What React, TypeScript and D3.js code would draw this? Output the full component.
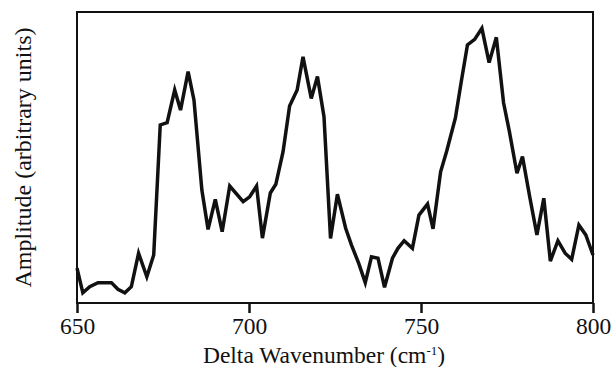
import { useEffect, useRef } from "react"
import * as d3 from "d3"

// wavenumber (cm-1) and amplitude (arbitrary units, 0-100)
const wavenumbers = [
  650, 651.7, 653.7, 656.1, 658, 660, 661.9, 663.9, 665.8, 667.9, 670.3, 672.3, 674.2, 676.2, 678.4,
  680.1, 682.3, 684, 686.3, 688.1, 690.2, 692.2, 694.4, 698.3, 700.2, 702.2, 703.9, 706.2, 707.8,
  709.9, 711.8, 714, 715.7, 718.1, 719.9, 721.8, 723.7, 725.7, 728.1, 729.8, 731.9, 733.8, 735.6,
  737.5, 739.4, 741.7, 743.3, 745.1, 747.5, 749.4, 751.9, 753.5, 755.7, 757.5, 760, 761.7, 763.5,
  765.6, 767.7, 769.8, 771.9, 774, 775.7, 777.9, 779.5, 781.6, 783.7, 785.7, 787.6, 789.8, 791.9,
  793.8, 795.9, 797.9, 800,
]
const amplitudes = [
  12.0, 3.5, 5.6, 7.0, 7.0, 7.0, 4.7, 3.5, 5.6, 17.1, 9.0, 16.5, 61.2, 62.0, 73.2,
  66.3, 79.5, 69.8, 38.8, 25.3, 35.6, 24.5, 40.2, 34.8, 36.5, 40.2, 22.3, 37.8, 40.8,
  52.0, 67.7, 73.2, 84.6, 70.3, 77.8, 64.0, 22.2, 37.4, 25.7, 19.9, 13.6, 7.0, 15.9,
  15.4, 5.4, 15.4, 18.8, 21.4, 18.8, 30.2, 34.0, 25.5, 45.1, 52.3, 63.6, 76.0, 88.7,
  90.6, 94.4, 82.6, 91.3, 68.8, 58.9, 44.6, 50.3, 36.5, 23.4, 36.0, 14.4, 21.4, 17.1,
  15.0, 26.8, 23.4, 16.5,
]
const xTicks = [650, 700, 750, 800]

export default function App() {
  const svgRef = useRef<SVGSVGElement>(null)

  useEffect(() => {
    if (!svgRef.current) return
    const svg = d3.select(svgRef.current)
    svg.selectAll("*").remove()

    const margin = { top: 12, right: 19, bottom: 64, left: 77 }
    const W = 612
    const H = 367
    const width = W - margin.left - margin.right
    const height = H - margin.top - margin.bottom
    const font = "'Liberation Serif', 'Times New Roman', serif"

    const x = d3.scaleLinear().domain([650, 800]).range([0, width])
    const y = d3.scaleLinear().domain([0, 100]).range([height, 0])

    const g = svg.append("g").attr("transform", `translate(${margin.left},${margin.top})`)

    // frame
    g.append("rect")
      .attr("width", width)
      .attr("height", height)
      .attr("fill", "none")
      .attr("stroke", "#111")
      .attr("stroke-width", 2)

    // x axis
    const xAxis = g
      .append("g")
      .attr("transform", `translate(0,${height})`)
      .call(d3.axisBottom(x).tickValues(xTicks).tickSize(10).tickFormat(d3.format("d")))
    xAxis.select(".domain").remove()
    xAxis.selectAll("line").attr("stroke", "#111").attr("stroke-width", 2.5)
    xAxis
      .selectAll("text")
      .attr("y", 31)
      .attr("dy", 0)
      .attr("fill", "#111")
      .style("font-family", font)
      .style("font-size", "23.5px")

    // line
    const line = d3
      .line<number>()
      .x((_, i) => x(wavenumbers[i]))
      .y((d) => y(d))
    g.append("path")
      .datum(amplitudes)
      .attr("fill", "none")
      .attr("stroke", "#111")
      .attr("stroke-width", 3.5)
      .attr("stroke-linejoin", "miter")
      .attr("d", line)

    // axis labels
    const xl = g
      .append("text")
      .attr("x", width / 2 - 11)
      .attr("y", height + 60)
      .attr("text-anchor", "middle")
      .attr("fill", "#111")
      .style("font-family", font)
      .style("font-size", "23.5px")
    xl.append("tspan").text("Delta Wavenumber (cm")
    xl.append("tspan").attr("dy", -8).style("font-size", "13px").text("-1")
    xl.append("tspan").attr("dy", 8).text(")")

    g.append("text")
      .attr("transform", "rotate(-90)")
      .attr("x", -145.5)
      .attr("y", -46)
      .attr("text-anchor", "middle")
      .attr("fill", "#111")
      .style("font-family", font)
      .style("font-size", "24px")
      .text("Amplitude (arbitrary units)")
  }, [])

  return (
    <div style={{ position: "absolute", left: 0, top: 0 }}>
      <svg ref={svgRef} width={612} height={367} style={{ display: "block", background: "#fff" }}></svg>
    </div>
  )
}
